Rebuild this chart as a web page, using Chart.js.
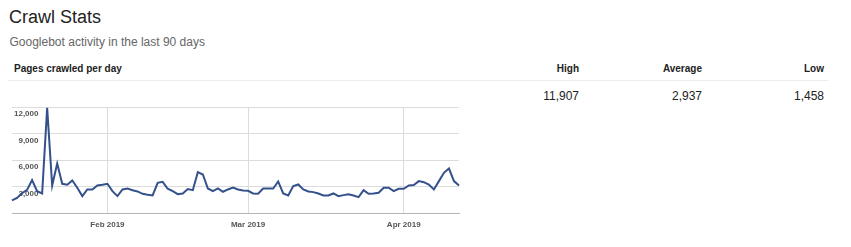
<!DOCTYPE html>
<html>
<head>
<meta charset="utf-8">
<script src="https://cdn.jsdelivr.net/npm/chart.js@4"></script>
<style>
  body {
    margin: 0;
    background: #fff;
    font-family: Arial, "Liberation Sans", sans-serif;
    width: 851px;
    height: 247px;
    position: relative;
    overflow: hidden;
  }
  .abs { position: absolute; white-space: nowrap; }
  .title { left: 9px; top: 8px; font-size: 18px; line-height: 18px; color: #222; }
  .subtitle { left: 9.5px; top: 36px; font-size: 12px; line-height: 12px; color: #666; }
  .head { top: 64px; font-size: 10px; line-height: 10px; font-weight: bold; color: #222; }
  .val { top: 90px; font-size: 12px; line-height: 12px; color: #222; }
  .sep { left: 8px; top: 80px; width: 820px; height: 1px; background: #ececec; }
  #wrap { position: absolute; left: 0; top: 100px; width: 470px; height: 137px; }
</style>
</head>
<body>
<div class="abs title">Crawl Stats</div>
<div class="abs subtitle">Googlebot activity in the last 90 days</div>
<div class="abs head" style="left:14px">Pages crawled per day</div>
<div class="abs head" style="right:272px">High</div>
<div class="abs head" style="right:149px">Average</div>
<div class="abs head" style="right:27px">Low</div>
<div class="abs sep"></div>
<div class="abs val" style="right:272px">11,907</div>
<div class="abs val" style="right:149px">2,937</div>
<div class="abs val" style="right:27px">1,458</div>
<div id="wrap"><canvas id="chart-crawl"></canvas></div>

<script>
// 90 days, Jan 13 2019 .. Apr 12 2019
const START_DATE = '2019-01-13';

const pagesCrawled = [
  1458, 1750, 2270, 2650, 3750, 2510, 2250, 11907, 3150, 5625,
  3340, 3230, 3710, 2890, 1950, 2700, 2700, 3150, 3230, 3340,
  2510, 1950, 2700, 2810, 2620, 2475, 2210, 2100, 2025, 3450,
  3560, 2780, 2510, 2170, 2250, 2740, 2620, 4650, 4390, 2810,
  2510, 2810, 2440, 2700, 2925, 2700, 2590, 2550, 2250, 2210,
  2810, 2810, 2810, 3600, 2250, 2025, 3075, 3260, 2700, 2475,
  2400, 2250, 2025, 2025, 2250, 1950, 2060, 2170, 2025, 1835,
  2620, 2210, 2250, 2330, 2890, 2890, 2510, 2780, 2780, 3150,
  3190, 3640, 3520, 3260, 2700, 3640, 4580, 5060, 3640, 3150
];

const monthTickIndex = [19, 47, 78];
const monthTickLabels = ['Feb 2019', 'Mar 2019', 'Apr 2019'];

const yTicks = [0, 3000, 6000, 9000, 12000];

const days = [];
const d0 = new Date(START_DATE + 'T00:00:00');
for (let i = 0; i < pagesCrawled.length; i++) {
  const d = new Date(d0);
  d.setDate(d0.getDate() + i);
  days.push(d.toISOString().slice(0, 10));
}

const fmt = new Intl.NumberFormat('en-US');

new Chart(document.getElementById('chart-crawl'), {
  type: 'line',
  data: {
    labels: days,
    datasets: [{
      label: 'Pages crawled per day',
      data: pagesCrawled,
      borderColor: '#34518c',
      borderWidth: 2,
      pointRadius: 0,
      tension: 0,
      fill: false,
    }]
  },
  options: {
    responsive: true,
    maintainAspectRatio: false,
    animation: false,
    layout: { padding: { left: 8, right: 11, top: 7, bottom: 0 } },
    plugins: {
      legend: { display: false },
      tooltip: { enabled: false }
    },
    scales: {
      x: {
        grid: {
          drawTicks: false,
          color: (ctx) => monthTickIndex.includes(ctx.index) ? '#dcdcdc' : 'transparent'
        },
        border: { display: true, color: '#b5b5b5' },
        ticks: {
          autoSkip: false,
          maxRotation: 0,
          padding: 7,
          color: '#555',
          font: { family: 'Arial, "Liberation Sans", sans-serif', size: 8, weight: 'bold' },
          callback: (val, idx) => {
            const k = monthTickIndex.indexOf(idx);
            return k >= 0 ? monthTickLabels[k] : '';
          }
        }
      },
      y: {
        min: 0,
        max: 12000,
        afterBuildTicks: (axis) => { axis.ticks = yTicks.map(v => ({ value: v })); },
        grid: { drawTicks: false, color: '#dcdcdc' },
        border: { display: false },
        ticks: {
          mirror: true,
          crossAlign: 'far',
          padding: 2,
          labelOffset: 7,
          color: '#555',
          font: { family: 'Arial, "Liberation Sans", sans-serif', size: 8, weight: 'bold' },
          callback: (val) => val === 0 ? '' : fmt.format(val)
        }
      }
    }
  }
});
</script>
</body>
</html>
